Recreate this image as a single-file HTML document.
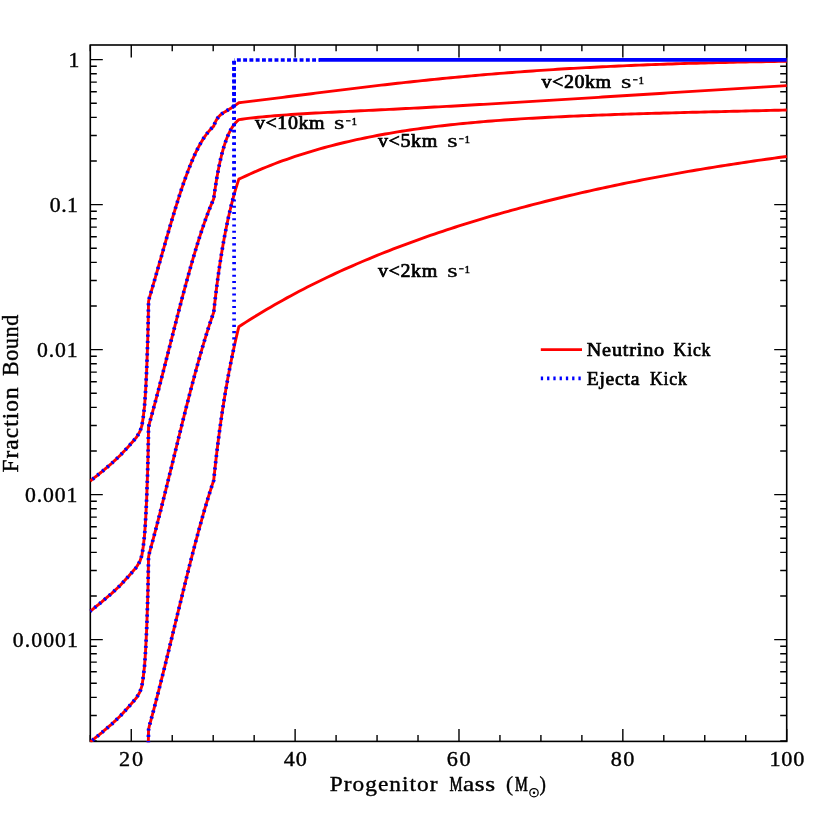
<!DOCTYPE html>
<html><head><meta charset="utf-8"><title>Fraction Bound vs Progenitor Mass</title>
<style>html,body{margin:0;padding:0;background:#fff}svg{display:block}</style></head>
<body>
<svg width="830" height="830" viewBox="0 0 830 830">
<rect width="830" height="830" fill="#fff"/>
<defs><clipPath id="cp"><rect x="89.50" y="44.20" width="698.00" height="698.00"/></clipPath></defs>
<g stroke="#000" fill="none">
<rect x="90.30" y="45.00" width="696.40" height="696.40" stroke-width="1.6"/>
<path d="M90.30,741.40 v-6.30 M90.30,45.00 v6.30 M131.26,741.40 v-12.40 M131.26,45.00 v12.40 M172.23,741.40 v-6.30 M172.23,45.00 v6.30 M213.19,741.40 v-6.30 M213.19,45.00 v6.30 M254.16,741.40 v-6.30 M254.16,45.00 v6.30 M295.12,741.40 v-12.40 M295.12,45.00 v12.40 M336.09,741.40 v-6.30 M336.09,45.00 v6.30 M377.06,741.40 v-6.30 M377.06,45.00 v6.30 M418.02,741.40 v-6.30 M418.02,45.00 v6.30 M458.99,741.40 v-12.40 M458.99,45.00 v12.40 M499.95,741.40 v-6.30 M499.95,45.00 v6.30 M540.91,741.40 v-6.30 M540.91,45.00 v6.30 M581.88,741.40 v-6.30 M581.88,45.00 v6.30 M622.84,741.40 v-12.40 M622.84,45.00 v12.40 M663.81,741.40 v-6.30 M663.81,45.00 v6.30 M704.77,741.40 v-6.30 M704.77,45.00 v6.30 M745.74,741.40 v-6.30 M745.74,45.00 v6.30 M786.70,741.40 v-12.40 M786.70,45.00 v12.40 M90.30,59.64 h12.50 M786.70,59.64 h-12.50 M90.30,204.64 h12.50 M786.70,204.64 h-12.50 M90.30,160.99 h6.50 M786.70,160.99 h-6.50 M90.30,135.46 h6.50 M786.70,135.46 h-6.50 M90.30,117.34 h6.50 M786.70,117.34 h-6.50 M90.30,103.29 h6.50 M786.70,103.29 h-6.50 M90.30,91.81 h6.50 M786.70,91.81 h-6.50 M90.30,82.10 h6.50 M786.70,82.10 h-6.50 M90.30,73.69 h6.50 M786.70,73.69 h-6.50 M90.30,66.27 h6.50 M786.70,66.27 h-6.50 M90.30,349.64 h12.50 M786.70,349.64 h-12.50 M90.30,305.99 h6.50 M786.70,305.99 h-6.50 M90.30,280.46 h6.50 M786.70,280.46 h-6.50 M90.30,262.34 h6.50 M786.70,262.34 h-6.50 M90.30,248.29 h6.50 M786.70,248.29 h-6.50 M90.30,236.81 h6.50 M786.70,236.81 h-6.50 M90.30,227.10 h6.50 M786.70,227.10 h-6.50 M90.30,218.69 h6.50 M786.70,218.69 h-6.50 M90.30,211.27 h6.50 M786.70,211.27 h-6.50 M90.30,494.64 h12.50 M786.70,494.64 h-12.50 M90.30,450.99 h6.50 M786.70,450.99 h-6.50 M90.30,425.46 h6.50 M786.70,425.46 h-6.50 M90.30,407.34 h6.50 M786.70,407.34 h-6.50 M90.30,393.29 h6.50 M786.70,393.29 h-6.50 M90.30,381.81 h6.50 M786.70,381.81 h-6.50 M90.30,372.10 h6.50 M786.70,372.10 h-6.50 M90.30,363.69 h6.50 M786.70,363.69 h-6.50 M90.30,356.27 h6.50 M786.70,356.27 h-6.50 M90.30,639.64 h12.50 M786.70,639.64 h-12.50 M90.30,595.99 h6.50 M786.70,595.99 h-6.50 M90.30,570.46 h6.50 M786.70,570.46 h-6.50 M90.30,552.34 h6.50 M786.70,552.34 h-6.50 M90.30,538.29 h6.50 M786.70,538.29 h-6.50 M90.30,526.81 h6.50 M786.70,526.81 h-6.50 M90.30,517.10 h6.50 M786.70,517.10 h-6.50 M90.30,508.69 h6.50 M786.70,508.69 h-6.50 M90.30,501.27 h6.50 M786.70,501.27 h-6.50 M90.30,740.99 h6.50 M786.70,740.99 h-6.50 M90.30,715.46 h6.50 M786.70,715.46 h-6.50 M90.30,697.34 h6.50 M786.70,697.34 h-6.50 M90.30,683.29 h6.50 M786.70,683.29 h-6.50 M90.30,671.81 h6.50 M786.70,671.81 h-6.50 M90.30,662.10 h6.50 M786.70,662.10 h-6.50 M90.30,653.69 h6.50 M786.70,653.69 h-6.50 M90.30,646.27 h6.50 M786.70,646.27 h-6.50" stroke-width="1.4"/>
</g>
<g clip-path="url(#cp)" fill="none" stroke-linejoin="round">
<path d="M90.30,481.00 L91.90,479.70 L92.35,479.34 L94.40,477.69 L96.44,476.04 L98.49,474.40 L100.54,472.75 L101.60,471.90 L102.59,471.06 L104.64,469.33 L106.69,467.60 L108.73,465.87 L110.78,464.14 L111.30,463.70 L112.83,462.27 L114.88,460.35 L116.93,458.44 L118.98,456.52 L120.50,455.10 L121.02,454.54 L123.07,452.33 L125.12,450.13 L127.17,447.93 L128.50,446.50 L129.22,445.68 L131.26,443.32 L133.31,440.96 L135.36,438.61 L136.50,437.30 L137.41,435.77 L139.46,432.34 L139.90,431.60 L141.51,426.86 L141.90,425.70 L143.20,417.50 L143.55,414.47 L144.50,406.40 L145.20,397.00 L145.60,390.62 L145.80,387.50 L146.70,369.40 L147.60,344.20 L148.10,326.10 L148.55,301.50 L149.37,297.85 L150.19,295.10 L151.01,292.33 L151.83,289.55 L152.65,286.75 L153.47,283.94 L154.29,281.12 L155.10,278.29 L155.92,275.45 L156.74,272.60 L157.56,269.74 L158.38,266.88 L159.20,264.01 L160.02,261.14 L160.84,258.27 L161.66,255.39 L162.48,252.52 L163.30,249.65 L164.12,246.79 L164.94,243.93 L165.76,241.07 L166.57,238.22 L167.39,235.39 L168.21,232.56 L169.03,229.74 L169.85,226.94 L170.67,224.15 L171.49,221.37 L172.31,218.62 L173.13,215.88 L173.95,213.16 L174.77,210.47 L175.59,207.79 L176.41,205.14 L177.23,202.52 L178.04,199.92 L178.86,197.35 L179.68,194.81 L180.50,192.30 L181.32,189.82 L182.14,187.38 L182.96,184.97 L183.78,182.59 L184.60,180.26 L185.42,177.96 L186.24,175.70 L187.06,173.48 L187.88,171.30 L188.70,169.16 L189.52,167.06 L190.33,165.01 L191.15,163.00 L191.97,161.04 L192.79,159.13 L193.61,157.26 L194.43,155.44 L195.25,153.66 L196.07,151.94 L196.89,150.26 L197.71,148.63 L198.53,147.05 L199.35,145.51 L200.17,144.03 L200.99,142.60 L201.80,141.21 L202.62,139.87 L203.44,138.58 L204.26,137.34 L205.08,136.14 L205.90,134.99 L206.72,133.89 L207.54,132.83 L208.36,131.82 L209.18,130.84 L210.00,129.92 L210.82,129.03 L211.64,128.18 L212.46,127.38 L213.27,126.61 L213.69,126.23 L214.51,124.01 L215.33,122.10 L216.14,120.46 L216.96,119.06 L217.78,117.86 L218.60,116.83 L219.42,115.93 L220.24,115.14 L221.06,114.44 L221.88,113.80 L222.70,113.22 L223.52,112.67 L224.34,112.15 L225.16,111.65 L225.98,111.16 L226.80,110.68 L227.61,110.19 L228.43,109.70 L229.25,109.20 L230.07,108.70 L230.89,108.19 L231.71,107.67 L232.53,107.14 L233.35,106.60 L234.17,106.05 L234.99,105.50 L235.81,104.93 L236.63,104.36 L237.45,103.77 L238.27,103.18 L238.84,102.77 L241.87,102.40 L245.97,101.91 L250.06,101.41 L254.16,100.91 L258.26,100.41 L262.35,99.90 L266.45,99.39 L270.55,98.88 L274.64,98.36 L278.74,97.85 L282.84,97.33 L286.93,96.81 L291.03,96.29 L295.12,95.77 L299.22,95.25 L303.32,94.73 L307.41,94.21 L311.51,93.69 L315.61,93.18 L319.70,92.66 L323.80,92.14 L327.90,91.63 L331.99,91.12 L336.09,90.61 L340.19,90.10 L344.28,89.59 L348.38,89.09 L352.48,88.59 L356.57,88.09 L360.67,87.60 L364.77,87.11 L368.86,86.62 L372.96,86.13 L377.06,85.65 L381.15,85.18 L385.25,84.70 L389.34,84.23 L393.44,83.77 L397.54,83.31 L401.63,82.85 L405.73,82.40 L409.83,81.95 L413.92,81.51 L418.02,81.08 L422.12,80.64 L426.21,80.22 L430.31,79.79 L434.41,79.38 L438.50,78.96 L442.60,78.56 L446.70,78.15 L450.79,77.76 L454.89,77.37 L458.99,76.98 L463.08,76.60 L467.18,76.22 L471.27,75.85 L475.37,75.49 L479.47,75.13 L483.56,74.78 L487.66,74.43 L491.76,74.08 L495.85,73.75 L499.95,73.41 L504.05,73.09 L508.14,72.77 L512.24,72.45 L516.34,72.14 L520.43,71.83 L524.53,71.53 L528.63,71.24 L532.72,70.95 L536.82,70.67 L540.91,70.39 L545.01,70.11 L549.11,69.84 L553.20,69.58 L557.30,69.32 L561.40,69.07 L565.49,68.82 L569.59,68.57 L573.69,68.34 L577.78,68.10 L581.88,67.87 L585.98,67.65 L590.07,67.43 L594.17,67.21 L598.27,67.00 L602.36,66.80 L606.46,66.59 L610.56,66.40 L614.65,66.20 L618.75,66.02 L622.84,65.83 L626.94,65.65 L631.04,65.48 L635.13,65.30 L639.23,65.14 L643.33,64.97 L647.42,64.81 L651.52,64.66 L655.62,64.50 L659.71,64.36 L663.81,64.21 L667.91,64.07 L672.00,63.93 L676.10,63.80 L680.20,63.67 L684.29,63.54 L688.39,63.41 L692.49,63.29 L696.58,63.18 L700.68,63.06 L704.77,62.95 L708.87,62.84 L712.97,62.74 L717.06,62.63 L721.16,62.53 L725.26,62.44 L729.35,62.34 L733.45,62.25 L737.55,62.16 L741.64,62.07 L745.74,61.99 L749.84,61.91 L753.93,61.83 L758.03,61.75 L762.13,61.68 L766.22,61.61 L770.32,61.54 L774.42,61.47 L778.51,61.40 L782.61,61.34 L786.70,61.28" stroke="#ff0000" stroke-width="2.9"/>
<path d="M90.30,611.22 L91.90,609.91 L92.35,609.55 L94.40,607.89 L96.44,606.23 L98.49,604.57 L100.54,602.91 L101.60,602.05 L102.59,601.21 L104.64,599.46 L106.69,597.71 L108.73,595.96 L110.78,594.22 L111.30,593.78 L112.83,592.33 L114.88,590.40 L116.93,588.46 L118.98,586.53 L120.50,585.09 L121.02,584.52 L123.07,582.30 L125.12,580.07 L127.17,577.85 L128.50,576.40 L129.22,575.57 L131.26,573.18 L133.31,570.80 L135.36,568.42 L136.50,567.09 L137.41,565.55 L139.46,562.07 L139.90,561.32 L141.51,556.51 L141.90,555.34 L143.20,547.02 L143.55,543.94 L144.50,535.74 L145.20,526.16 L145.60,519.66 L145.80,516.47 L146.70,497.94 L147.60,471.98 L148.10,453.18 L148.55,427.35 L149.37,423.49 L150.19,420.57 L151.01,417.63 L151.83,414.67 L152.65,411.68 L153.47,408.68 L154.29,405.65 L155.10,402.61 L155.92,399.54 L156.74,396.47 L157.56,393.37 L158.38,390.26 L159.20,387.14 L160.02,384.00 L160.84,380.86 L161.66,377.70 L162.48,374.53 L163.30,371.35 L164.12,368.17 L164.94,364.97 L165.76,361.78 L166.57,358.57 L167.39,355.36 L168.21,352.15 L169.03,348.94 L169.85,345.73 L170.67,342.51 L171.49,339.30 L172.31,336.09 L173.13,332.88 L173.95,329.68 L174.77,326.48 L175.59,323.29 L176.41,320.10 L177.23,316.93 L178.04,313.76 L178.86,310.60 L179.68,307.45 L180.50,304.32 L181.32,301.20 L182.14,298.09 L182.96,295.00 L183.78,291.92 L184.60,288.86 L185.42,285.82 L186.24,282.80 L187.06,279.80 L187.88,276.82 L188.70,273.87 L189.52,270.93 L190.33,268.02 L191.15,265.14 L191.97,262.28 L192.79,259.45 L193.61,256.64 L194.43,253.87 L195.25,251.12 L196.07,248.41 L196.89,245.73 L197.71,243.08 L198.53,240.46 L199.35,237.87 L200.17,235.32 L200.99,232.81 L201.80,230.33 L202.62,227.89 L203.44,225.49 L204.26,223.12 L205.08,220.80 L205.90,218.51 L206.72,216.26 L207.54,214.06 L208.36,211.89 L209.18,209.77 L210.00,207.69 L210.82,205.65 L211.64,203.65 L212.46,201.70 L213.27,199.79 L213.69,198.84 L214.51,192.91 L215.33,187.36 L216.14,182.16 L216.96,177.29 L217.78,172.73 L218.60,168.45 L219.42,164.45 L220.24,160.71 L221.06,157.21 L221.88,153.93 L222.70,150.86 L223.52,148.00 L224.34,145.32 L225.16,142.82 L225.98,140.50 L226.80,138.32 L227.61,136.30 L228.43,134.42 L229.25,132.67 L230.07,131.05 L230.89,129.54 L231.71,128.14 L232.53,126.84 L233.35,125.64 L234.17,124.52 L234.99,123.49 L235.81,122.54 L236.63,121.66 L237.45,120.84 L238.27,120.09 L238.84,119.59 L241.87,119.19 L245.97,118.67 L250.06,118.18 L254.16,117.72 L258.26,117.29 L262.35,116.88 L266.45,116.49 L270.55,116.13 L274.64,115.78 L278.74,115.45 L282.84,115.14 L286.93,114.85 L291.03,114.56 L295.12,114.29 L299.22,114.03 L303.32,113.78 L307.41,113.53 L311.51,113.30 L315.61,113.07 L319.70,112.85 L323.80,112.63 L327.90,112.41 L331.99,112.20 L336.09,112.00 L340.19,111.79 L344.28,111.59 L348.38,111.39 L352.48,111.19 L356.57,110.99 L360.67,110.79 L364.77,110.59 L368.86,110.39 L372.96,110.19 L377.06,109.99 L381.15,109.79 L385.25,109.59 L389.34,109.39 L393.44,109.19 L397.54,108.98 L401.63,108.78 L405.73,108.57 L409.83,108.36 L413.92,108.15 L418.02,107.94 L422.12,107.72 L426.21,107.51 L430.31,107.29 L434.41,107.07 L438.50,106.85 L442.60,106.63 L446.70,106.41 L450.79,106.19 L454.89,105.96 L458.99,105.73 L463.08,105.50 L467.18,105.27 L471.27,105.04 L475.37,104.81 L479.47,104.57 L483.56,104.34 L487.66,104.10 L491.76,103.86 L495.85,103.62 L499.95,103.38 L504.05,103.14 L508.14,102.89 L512.24,102.65 L516.34,102.40 L520.43,102.16 L524.53,101.91 L528.63,101.66 L532.72,101.41 L536.82,101.16 L540.91,100.91 L545.01,100.66 L549.11,100.41 L553.20,100.15 L557.30,99.90 L561.40,99.64 L565.49,99.39 L569.59,99.13 L573.69,98.88 L577.78,98.62 L581.88,98.36 L585.98,98.10 L590.07,97.85 L594.17,97.59 L598.27,97.33 L602.36,97.07 L606.46,96.81 L610.56,96.55 L614.65,96.29 L618.75,96.03 L622.84,95.77 L626.94,95.51 L631.04,95.25 L635.13,94.99 L639.23,94.73 L643.33,94.47 L647.42,94.21 L651.52,93.95 L655.62,93.69 L659.71,93.44 L663.81,93.18 L667.91,92.92 L672.00,92.66 L676.10,92.40 L680.20,92.14 L684.29,91.89 L688.39,91.63 L692.49,91.37 L696.58,91.12 L700.68,90.86 L704.77,90.61 L708.87,90.35 L712.97,90.10 L717.06,89.85 L721.16,89.59 L725.26,89.34 L729.35,89.09 L733.45,88.84 L737.55,88.59 L741.64,88.34 L745.74,88.09 L749.84,87.84 L753.93,87.60 L758.03,87.35 L762.13,87.11 L766.22,86.86 L770.32,86.62 L774.42,86.37 L778.51,86.13 L782.61,85.89 L786.70,85.65" stroke="#ff0000" stroke-width="2.9"/>
<path d="M90.30,741.99 L91.90,740.68 L92.35,740.31 L94.40,738.65 L96.44,736.99 L98.49,735.32 L100.54,733.66 L101.60,732.80 L102.59,731.95 L104.64,730.20 L106.69,728.45 L108.73,726.70 L110.78,724.95 L111.30,724.51 L112.83,723.06 L114.88,721.12 L116.93,719.18 L118.98,717.24 L120.50,715.80 L121.02,715.23 L123.07,713.00 L125.12,710.77 L127.17,708.54 L128.50,707.09 L129.22,706.25 L131.26,703.86 L133.31,701.47 L135.36,699.08 L136.50,697.75 L137.41,696.20 L139.46,692.71 L139.90,691.96 L141.51,687.14 L141.90,685.96 L143.20,677.61 L143.55,674.52 L144.50,666.28 L145.20,656.66 L145.60,650.12 L145.80,646.92 L146.70,628.28 L147.60,602.13 L148.10,583.15 L148.55,557.01 L149.37,553.10 L150.19,550.14 L151.01,547.15 L151.83,544.14 L152.65,541.11 L153.47,538.05 L154.29,534.97 L155.10,531.87 L155.92,528.76 L156.74,525.62 L157.56,522.46 L158.38,519.29 L159.20,516.10 L160.02,512.90 L160.84,509.68 L161.66,506.45 L162.48,503.20 L163.30,499.94 L164.12,496.67 L164.94,493.39 L165.76,490.11 L166.57,486.81 L167.39,483.51 L168.21,480.19 L169.03,476.88 L169.85,473.56 L170.67,470.23 L171.49,466.90 L172.31,463.57 L173.13,460.24 L173.95,456.90 L174.77,453.57 L175.59,450.24 L176.41,446.91 L177.23,443.59 L178.04,440.26 L178.86,436.95 L179.68,433.63 L180.50,430.33 L181.32,427.03 L182.14,423.74 L182.96,420.46 L183.78,417.19 L184.60,413.93 L185.42,410.69 L186.24,407.45 L187.06,404.23 L187.88,401.03 L188.70,397.84 L189.52,394.66 L190.33,391.51 L191.15,388.37 L191.97,385.25 L192.79,382.15 L193.61,379.07 L194.43,376.02 L195.25,372.98 L196.07,369.97 L196.89,366.98 L197.71,364.02 L198.53,361.09 L199.35,358.18 L200.17,355.30 L200.99,352.44 L201.80,349.62 L202.62,346.82 L203.44,344.06 L204.26,341.33 L205.08,338.63 L205.90,335.96 L206.72,333.33 L207.54,330.74 L208.36,328.17 L209.18,325.65 L210.00,323.16 L210.82,320.71 L211.64,318.30 L212.46,315.93 L213.27,313.59 L213.69,312.44 L214.51,305.08 L215.33,298.06 L216.14,291.35 L216.96,284.93 L217.78,278.78 L218.60,272.88 L219.42,267.23 L220.24,261.79 L221.06,256.56 L221.88,251.54 L222.70,246.70 L223.52,242.04 L224.34,237.55 L225.16,233.21 L225.98,229.04 L226.80,225.00 L227.61,221.11 L228.43,217.35 L229.25,213.72 L230.07,210.21 L230.89,206.82 L231.71,203.54 L232.53,200.37 L233.35,197.30 L234.17,194.34 L234.99,191.47 L235.81,188.69 L236.63,186.01 L237.45,183.41 L238.27,180.89 L238.84,179.18 L241.87,177.73 L245.97,175.82 L250.06,173.96 L254.16,172.14 L258.26,170.38 L262.35,168.66 L266.45,166.99 L270.55,165.36 L274.64,163.77 L278.74,162.23 L282.84,160.73 L286.93,159.27 L291.03,157.84 L295.12,156.46 L299.22,155.11 L303.32,153.80 L307.41,152.53 L311.51,151.29 L315.61,150.08 L319.70,148.91 L323.80,147.76 L327.90,146.65 L331.99,145.57 L336.09,144.53 L340.19,143.51 L344.28,142.51 L348.38,141.55 L352.48,140.61 L356.57,139.70 L360.67,138.82 L364.77,137.96 L368.86,137.13 L372.96,136.32 L377.06,135.53 L381.15,134.77 L385.25,134.03 L389.34,133.31 L393.44,132.61 L397.54,131.93 L401.63,131.27 L405.73,130.64 L409.83,130.02 L413.92,129.42 L418.02,128.84 L422.12,128.27 L426.21,127.73 L430.31,127.20 L434.41,126.68 L438.50,126.18 L442.60,125.70 L446.70,125.23 L450.79,124.78 L454.89,124.34 L458.99,123.92 L463.08,123.50 L467.18,123.11 L471.27,122.72 L475.37,122.34 L479.47,121.98 L483.56,121.63 L487.66,121.29 L491.76,120.96 L495.85,120.64 L499.95,120.33 L504.05,120.03 L508.14,119.74 L512.24,119.46 L516.34,119.19 L520.43,118.92 L524.53,118.67 L528.63,118.42 L532.72,118.18 L536.82,117.94 L540.91,117.72 L545.01,117.50 L549.11,117.29 L553.20,117.08 L557.30,116.88 L561.40,116.68 L565.49,116.49 L569.59,116.31 L573.69,116.13 L577.78,115.95 L581.88,115.78 L585.98,115.62 L590.07,115.45 L594.17,115.30 L598.27,115.14 L602.36,114.99 L606.46,114.85 L610.56,114.70 L614.65,114.56 L618.75,114.42 L622.84,114.29 L626.94,114.16 L631.04,114.03 L635.13,113.90 L639.23,113.78 L643.33,113.66 L647.42,113.53 L651.52,113.42 L655.62,113.30 L659.71,113.18 L663.81,113.07 L667.91,112.96 L672.00,112.85 L676.10,112.74 L680.20,112.63 L684.29,112.52 L688.39,112.41 L692.49,112.31 L696.58,112.20 L700.68,112.10 L704.77,112.00 L708.87,111.89 L712.97,111.79 L717.06,111.69 L721.16,111.59 L725.26,111.49 L729.35,111.39 L733.45,111.29 L737.55,111.19 L741.64,111.09 L745.74,110.99 L749.84,110.89 L753.93,110.79 L758.03,110.69 L762.13,110.59 L766.22,110.49 L770.32,110.39 L774.42,110.29 L778.51,110.19 L782.61,110.09 L786.70,109.99" stroke="#ff0000" stroke-width="2.9"/>
<path d="M90.30,915.04 L91.90,913.73 L92.35,913.37 L94.40,911.70 L96.44,910.04 L98.49,908.37 L100.54,906.71 L101.60,905.85 L102.59,905.00 L104.64,903.25 L106.69,901.49 L108.73,899.74 L110.78,897.99 L111.30,897.55 L112.83,896.10 L114.88,894.16 L116.93,892.22 L118.98,890.28 L120.50,888.84 L121.02,888.27 L123.07,886.03 L125.12,883.80 L127.17,881.57 L128.50,880.12 L129.22,879.28 L131.26,876.89 L133.31,874.49 L135.36,872.10 L136.50,870.77 L137.41,869.22 L139.46,865.73 L139.90,864.98 L141.51,860.15 L141.90,858.97 L143.20,850.61 L143.55,847.52 L144.50,839.27 L145.20,829.64 L145.60,823.09 L145.80,819.89 L146.70,801.22 L147.60,775.01 L148.10,755.98 L148.55,729.76 L149.37,725.82 L150.19,722.85 L151.01,719.85 L151.83,716.83 L152.65,713.78 L153.47,710.71 L154.29,707.62 L155.10,704.51 L155.92,701.37 L156.74,698.22 L157.56,695.04 L158.38,691.85 L159.20,688.65 L160.02,685.42 L160.84,682.18 L161.66,678.93 L162.48,675.66 L163.30,672.38 L164.12,669.09 L164.94,665.79 L165.76,662.47 L166.57,659.15 L167.39,655.82 L168.21,652.48 L169.03,649.13 L169.85,645.78 L170.67,642.42 L171.49,639.06 L172.31,635.70 L173.13,632.33 L173.95,628.96 L174.77,625.59 L175.59,622.22 L176.41,618.85 L177.23,615.48 L178.04,612.11 L178.86,608.75 L179.68,605.39 L180.50,602.04 L181.32,598.69 L182.14,595.35 L182.96,592.01 L183.78,588.69 L184.60,585.37 L185.42,582.07 L186.24,578.77 L187.06,575.49 L187.88,572.22 L188.70,568.96 L189.52,565.72 L190.33,562.49 L191.15,559.28 L191.97,556.08 L192.79,552.91 L193.61,549.75 L194.43,546.61 L195.25,543.49 L196.07,540.39 L196.89,537.32 L197.71,534.26 L198.53,531.24 L199.35,528.23 L200.17,525.25 L200.99,522.30 L201.80,519.37 L202.62,516.47 L203.44,513.60 L204.26,510.76 L205.08,507.95 L205.90,505.18 L206.72,502.43 L207.54,499.72 L208.36,497.04 L209.18,494.39 L210.00,491.78 L210.82,489.21 L211.64,486.67 L212.46,484.17 L213.27,481.71 L213.69,480.49 L214.51,472.70 L215.33,465.22 L216.14,458.05 L216.96,451.14 L217.78,444.49 L218.60,438.08 L219.42,431.88 L220.24,425.90 L221.06,420.10 L221.88,414.49 L222.70,409.05 L223.52,403.78 L224.34,398.65 L225.16,393.68 L225.98,388.84 L226.80,384.13 L227.61,379.54 L228.43,375.08 L229.25,370.73 L230.07,366.48 L230.89,362.34 L231.71,358.30 L232.53,354.35 L233.35,350.50 L234.17,346.73 L234.99,343.04 L235.81,339.44 L236.63,335.91 L237.45,332.45 L238.27,329.07 L238.84,326.75 L241.87,324.76 L245.97,322.12 L250.06,319.52 L254.16,316.97 L258.26,314.45 L262.35,311.97 L266.45,309.53 L270.55,307.13 L274.64,304.77 L278.74,302.44 L282.84,300.15 L286.93,297.89 L291.03,295.66 L295.12,293.47 L299.22,291.31 L303.32,289.18 L307.41,287.08 L311.51,285.01 L315.61,282.97 L319.70,280.95 L323.80,278.97 L327.90,277.01 L331.99,275.08 L336.09,273.17 L340.19,271.29 L344.28,269.44 L348.38,267.60 L352.48,265.80 L356.57,264.01 L360.67,262.25 L364.77,260.51 L368.86,258.80 L372.96,257.10 L377.06,255.43 L381.15,253.78 L385.25,252.15 L389.34,250.54 L393.44,248.95 L397.54,247.38 L401.63,245.82 L405.73,244.29 L409.83,242.77 L413.92,241.28 L418.02,239.80 L422.12,238.34 L426.21,236.89 L430.31,235.47 L434.41,234.06 L438.50,232.67 L442.60,231.29 L446.70,229.93 L450.79,228.58 L454.89,227.25 L458.99,225.94 L463.08,224.64 L467.18,223.35 L471.27,222.08 L475.37,220.83 L479.47,219.59 L483.56,218.36 L487.66,217.15 L491.76,215.95 L495.85,214.76 L499.95,213.59 L504.05,212.43 L508.14,211.28 L512.24,210.15 L516.34,209.03 L520.43,207.92 L524.53,206.82 L528.63,205.74 L532.72,204.66 L536.82,203.60 L540.91,202.55 L545.01,201.51 L549.11,200.49 L553.20,199.47 L557.30,198.47 L561.40,197.47 L565.49,196.49 L569.59,195.52 L573.69,194.56 L577.78,193.60 L581.88,192.66 L585.98,191.73 L590.07,190.81 L594.17,189.90 L598.27,189.00 L602.36,188.11 L606.46,187.22 L610.56,186.35 L614.65,185.49 L618.75,184.63 L622.84,183.79 L626.94,182.95 L631.04,182.13 L635.13,181.31 L639.23,180.50 L643.33,179.70 L647.42,178.90 L651.52,178.12 L655.62,177.35 L659.71,176.58 L663.81,175.82 L667.91,175.07 L672.00,174.32 L676.10,173.59 L680.20,172.86 L684.29,172.14 L688.39,171.43 L692.49,170.73 L696.58,170.03 L700.68,169.34 L704.77,168.66 L708.87,167.98 L712.97,167.32 L717.06,166.66 L721.16,166.00 L725.26,165.36 L729.35,164.72 L733.45,164.09 L737.55,163.46 L741.64,162.84 L745.74,162.23 L749.84,161.62 L753.93,161.02 L758.03,160.43 L762.13,159.85 L766.22,159.27 L770.32,158.69 L774.42,158.12 L778.51,157.56 L782.61,157.01 L786.70,156.46" stroke="#ff0000" stroke-width="2.9"/>
<path d="M90.30,481.00 L91.90,479.70 L92.35,479.34 L94.40,477.69 L96.44,476.04 L98.49,474.40 L100.54,472.75 L101.60,471.90 L102.59,471.06 L104.64,469.33 L106.69,467.60 L108.73,465.87 L110.78,464.14 L111.30,463.70 L112.83,462.27 L114.88,460.35 L116.93,458.44 L118.98,456.52 L120.50,455.10 L121.02,454.54 L123.07,452.33 L125.12,450.13 L127.17,447.93 L128.50,446.50 L129.22,445.68 L131.26,443.32 L133.31,440.96 L135.36,438.61 L136.50,437.30 L137.41,435.77 L139.46,432.34 L139.90,431.60 L141.51,426.86 L141.90,425.70 L143.20,417.50 L143.55,414.47 L144.50,406.40 L145.20,397.00 L145.60,390.62 L145.80,387.50 L146.70,369.40 L147.60,344.20 L148.10,326.10 L148.55,301.50 L149.37,297.85 L150.19,295.10 L151.01,292.33 L151.83,289.55 L152.65,286.75 L153.47,283.94 L154.29,281.12 L155.10,278.29 L155.92,275.45 L156.74,272.60 L157.56,269.74 L158.38,266.88 L159.20,264.01 L160.02,261.14 L160.84,258.27 L161.66,255.39 L162.48,252.52 L163.30,249.65 L164.12,246.79 L164.94,243.93 L165.76,241.07 L166.57,238.22 L167.39,235.39 L168.21,232.56 L169.03,229.74 L169.85,226.94 L170.67,224.15 L171.49,221.37 L172.31,218.62 L173.13,215.88 L173.95,213.16 L174.77,210.47 L175.59,207.79 L176.41,205.14 L177.23,202.52 L178.04,199.92 L178.86,197.35 L179.68,194.81 L180.50,192.30 L181.32,189.82 L182.14,187.38 L182.96,184.97 L183.78,182.59 L184.60,180.26 L185.42,177.96 L186.24,175.70 L187.06,173.48 L187.88,171.30 L188.70,169.16 L189.52,167.06 L190.33,165.01 L191.15,163.00 L191.97,161.04 L192.79,159.13 L193.61,157.26 L194.43,155.44 L195.25,153.66 L196.07,151.94 L196.89,150.26 L197.71,148.63 L198.53,147.05 L199.35,145.51 L200.17,144.03 L200.99,142.60 L201.80,141.21 L202.62,139.87 L203.44,138.58 L204.26,137.34 L205.08,136.14 L205.90,134.99 L206.72,133.89 L207.54,132.83 L208.36,131.82 L209.18,130.84 L210.00,129.92 L210.82,129.03 L211.64,128.18 L212.46,127.38 L213.27,126.61 L213.69,126.23 L214.51,124.01 L215.33,122.10 L216.14,120.46 L216.96,119.06 L217.78,117.86 L218.60,116.83 L219.42,115.93 L220.24,115.14 L221.06,114.44 L221.88,113.80 L222.70,113.22 L223.52,112.67 L224.34,112.15 L225.16,111.65 L225.98,111.16 L226.80,110.68 L227.61,110.19 L228.43,109.70 L229.25,109.20 L230.07,108.70 L230.89,108.19 L231.71,107.67 L232.53,107.14 L233.35,106.60 L234.09,106.11 L234.09,60.00" stroke="#0000ff" stroke-width="3.7" stroke-dasharray="2.10 4.17" stroke-dashoffset="3.42"/>
<path d="M90.30,611.22 L91.90,609.91 L92.35,609.55 L94.40,607.89 L96.44,606.23 L98.49,604.57 L100.54,602.91 L101.60,602.05 L102.59,601.21 L104.64,599.46 L106.69,597.71 L108.73,595.96 L110.78,594.22 L111.30,593.78 L112.83,592.33 L114.88,590.40 L116.93,588.46 L118.98,586.53 L120.50,585.09 L121.02,584.52 L123.07,582.30 L125.12,580.07 L127.17,577.85 L128.50,576.40 L129.22,575.57 L131.26,573.18 L133.31,570.80 L135.36,568.42 L136.50,567.09 L137.41,565.55 L139.46,562.07 L139.90,561.32 L141.51,556.51 L141.90,555.34 L143.20,547.02 L143.55,543.94 L144.50,535.74 L145.20,526.16 L145.60,519.66 L145.80,516.47 L146.70,497.94 L147.60,471.98 L148.10,453.18 L148.55,427.35 L149.37,423.49 L150.19,420.57 L151.01,417.63 L151.83,414.67 L152.65,411.68 L153.47,408.68 L154.29,405.65 L155.10,402.61 L155.92,399.54 L156.74,396.47 L157.56,393.37 L158.38,390.26 L159.20,387.14 L160.02,384.00 L160.84,380.86 L161.66,377.70 L162.48,374.53 L163.30,371.35 L164.12,368.17 L164.94,364.97 L165.76,361.78 L166.57,358.57 L167.39,355.36 L168.21,352.15 L169.03,348.94 L169.85,345.73 L170.67,342.51 L171.49,339.30 L172.31,336.09 L173.13,332.88 L173.95,329.68 L174.77,326.48 L175.59,323.29 L176.41,320.10 L177.23,316.93 L178.04,313.76 L178.86,310.60 L179.68,307.45 L180.50,304.32 L181.32,301.20 L182.14,298.09 L182.96,295.00 L183.78,291.92 L184.60,288.86 L185.42,285.82 L186.24,282.80 L187.06,279.80 L187.88,276.82 L188.70,273.87 L189.52,270.93 L190.33,268.02 L191.15,265.14 L191.97,262.28 L192.79,259.45 L193.61,256.64 L194.43,253.87 L195.25,251.12 L196.07,248.41 L196.89,245.73 L197.71,243.08 L198.53,240.46 L199.35,237.87 L200.17,235.32 L200.99,232.81 L201.80,230.33 L202.62,227.89 L203.44,225.49 L204.26,223.12 L205.08,220.80 L205.90,218.51 L206.72,216.26 L207.54,214.06 L208.36,211.89 L209.18,209.77 L210.00,207.69 L210.82,205.65 L211.64,203.65 L212.46,201.70 L213.27,199.79 L213.69,198.84 L214.51,192.91 L215.33,187.36 L216.14,182.16 L216.96,177.29 L217.78,172.73 L218.60,168.45 L219.42,164.45 L220.24,160.71 L221.06,157.21 L221.88,153.93 L222.70,150.86 L223.52,148.00 L224.34,145.32 L225.16,142.82 L225.98,140.50 L226.80,138.32 L227.61,136.30 L228.43,134.42 L229.25,132.67 L230.07,131.05 L230.89,129.54 L231.71,128.14 L232.53,126.84 L233.35,125.64 L234.09,124.63 L234.09,60.00" stroke="#0000ff" stroke-width="3.7" stroke-dasharray="2.10 4.17" stroke-dashoffset="0.77"/>
<path d="M90.30,741.99 L91.90,740.68 L92.35,740.31 L94.40,738.65 L96.44,736.99 L98.49,735.32 L100.54,733.66 L101.60,732.80 L102.59,731.95 L104.64,730.20 L106.69,728.45 L108.73,726.70 L110.78,724.95 L111.30,724.51 L112.83,723.06 L114.88,721.12 L116.93,719.18 L118.98,717.24 L120.50,715.80 L121.02,715.23 L123.07,713.00 L125.12,710.77 L127.17,708.54 L128.50,707.09 L129.22,706.25 L131.26,703.86 L133.31,701.47 L135.36,699.08 L136.50,697.75 L137.41,696.20 L139.46,692.71 L139.90,691.96 L141.51,687.14 L141.90,685.96 L143.20,677.61 L143.55,674.52 L144.50,666.28 L145.20,656.66 L145.60,650.12 L145.80,646.92 L146.70,628.28 L147.60,602.13 L148.10,583.15 L148.55,557.01 L149.37,553.10 L150.19,550.14 L151.01,547.15 L151.83,544.14 L152.65,541.11 L153.47,538.05 L154.29,534.97 L155.10,531.87 L155.92,528.76 L156.74,525.62 L157.56,522.46 L158.38,519.29 L159.20,516.10 L160.02,512.90 L160.84,509.68 L161.66,506.45 L162.48,503.20 L163.30,499.94 L164.12,496.67 L164.94,493.39 L165.76,490.11 L166.57,486.81 L167.39,483.51 L168.21,480.19 L169.03,476.88 L169.85,473.56 L170.67,470.23 L171.49,466.90 L172.31,463.57 L173.13,460.24 L173.95,456.90 L174.77,453.57 L175.59,450.24 L176.41,446.91 L177.23,443.59 L178.04,440.26 L178.86,436.95 L179.68,433.63 L180.50,430.33 L181.32,427.03 L182.14,423.74 L182.96,420.46 L183.78,417.19 L184.60,413.93 L185.42,410.69 L186.24,407.45 L187.06,404.23 L187.88,401.03 L188.70,397.84 L189.52,394.66 L190.33,391.51 L191.15,388.37 L191.97,385.25 L192.79,382.15 L193.61,379.07 L194.43,376.02 L195.25,372.98 L196.07,369.97 L196.89,366.98 L197.71,364.02 L198.53,361.09 L199.35,358.18 L200.17,355.30 L200.99,352.44 L201.80,349.62 L202.62,346.82 L203.44,344.06 L204.26,341.33 L205.08,338.63 L205.90,335.96 L206.72,333.33 L207.54,330.74 L208.36,328.17 L209.18,325.65 L210.00,323.16 L210.82,320.71 L211.64,318.30 L212.46,315.93 L213.27,313.59 L213.69,312.44 L214.51,305.08 L215.33,298.06 L216.14,291.35 L216.96,284.93 L217.78,278.78 L218.60,272.88 L219.42,267.23 L220.24,261.79 L221.06,256.56 L221.88,251.54 L222.70,246.70 L223.52,242.04 L224.34,237.55 L225.16,233.21 L225.98,229.04 L226.80,225.00 L227.61,221.11 L228.43,217.35 L229.25,213.72 L230.07,210.21 L230.89,206.82 L231.71,203.54 L232.53,200.37 L233.35,197.30 L234.09,194.63 L234.09,60.00" stroke="#0000ff" stroke-width="3.7" stroke-dasharray="2.10 4.17" stroke-dashoffset="3.72"/>
<path d="M90.30,915.04 L91.90,913.73 L92.35,913.37 L94.40,911.70 L96.44,910.04 L98.49,908.37 L100.54,906.71 L101.60,905.85 L102.59,905.00 L104.64,903.25 L106.69,901.49 L108.73,899.74 L110.78,897.99 L111.30,897.55 L112.83,896.10 L114.88,894.16 L116.93,892.22 L118.98,890.28 L120.50,888.84 L121.02,888.27 L123.07,886.03 L125.12,883.80 L127.17,881.57 L128.50,880.12 L129.22,879.28 L131.26,876.89 L133.31,874.49 L135.36,872.10 L136.50,870.77 L137.41,869.22 L139.46,865.73 L139.90,864.98 L141.51,860.15 L141.90,858.97 L143.20,850.61 L143.55,847.52 L144.50,839.27 L145.20,829.64 L145.60,823.09 L145.80,819.89 L146.70,801.22 L147.60,775.01 L148.10,755.98 L148.55,729.76 L149.37,725.82 L150.19,722.85 L151.01,719.85 L151.83,716.83 L152.65,713.78 L153.47,710.71 L154.29,707.62 L155.10,704.51 L155.92,701.37 L156.74,698.22 L157.56,695.04 L158.38,691.85 L159.20,688.65 L160.02,685.42 L160.84,682.18 L161.66,678.93 L162.48,675.66 L163.30,672.38 L164.12,669.09 L164.94,665.79 L165.76,662.47 L166.57,659.15 L167.39,655.82 L168.21,652.48 L169.03,649.13 L169.85,645.78 L170.67,642.42 L171.49,639.06 L172.31,635.70 L173.13,632.33 L173.95,628.96 L174.77,625.59 L175.59,622.22 L176.41,618.85 L177.23,615.48 L178.04,612.11 L178.86,608.75 L179.68,605.39 L180.50,602.04 L181.32,598.69 L182.14,595.35 L182.96,592.01 L183.78,588.69 L184.60,585.37 L185.42,582.07 L186.24,578.77 L187.06,575.49 L187.88,572.22 L188.70,568.96 L189.52,565.72 L190.33,562.49 L191.15,559.28 L191.97,556.08 L192.79,552.91 L193.61,549.75 L194.43,546.61 L195.25,543.49 L196.07,540.39 L196.89,537.32 L197.71,534.26 L198.53,531.24 L199.35,528.23 L200.17,525.25 L200.99,522.30 L201.80,519.37 L202.62,516.47 L203.44,513.60 L204.26,510.76 L205.08,507.95 L205.90,505.18 L206.72,502.43 L207.54,499.72 L208.36,497.04 L209.18,494.39 L210.00,491.78 L210.82,489.21 L211.64,486.67 L212.46,484.17 L213.27,481.71 L213.69,480.49 L214.51,472.70 L215.33,465.22 L216.14,458.05 L216.96,451.14 L217.78,444.49 L218.60,438.08 L219.42,431.88 L220.24,425.90 L221.06,420.10 L221.88,414.49 L222.70,409.05 L223.52,403.78 L224.34,398.65 L225.16,393.68 L225.98,388.84 L226.80,384.13 L227.61,379.54 L228.43,375.08 L229.25,370.73 L230.07,366.48 L230.89,362.34 L231.71,358.30 L232.53,354.35 L233.35,350.50 L234.09,347.10 L234.09,60.00" stroke="#0000ff" stroke-width="3.7" stroke-dasharray="2.10 4.17" stroke-dashoffset="1.14"/>
<path d="M234.09,60.00 L320,60.00" stroke="#0000ff" stroke-width="3.7" stroke-dasharray="3.9 2.37" stroke-dashoffset="3.46"/>
<path d="M319,59.85 L786.70,59.80" stroke="#0000ff" stroke-width="3.7"/>
</g>
<g font-family="'Liberation Serif', serif" fill="#000" opacity="0.999">
<text transform="translate(119.05,765.50) scale(1.0600,1.0000)" font-size="21" letter-spacing="1.651" stroke="#000" stroke-width="0.40">20</text>
<text transform="translate(283.70,765.50) scale(1.0600,1.0000)" font-size="21" letter-spacing="0.943" stroke="#000" stroke-width="0.40">40</text>
<text transform="translate(446.80,765.50) scale(1.0600,1.0000)" font-size="21" letter-spacing="1.415" stroke="#000" stroke-width="0.40">60</text>
<text transform="translate(610.70,765.50) scale(1.0600,1.0000)" font-size="21" letter-spacing="1.415" stroke="#000" stroke-width="0.40">80</text>
<text transform="translate(769.40,765.50) scale(1.0600,1.0000)" font-size="21" letter-spacing="0.708" stroke="#000" stroke-width="0.40">100</text>
<text transform="translate(68.40,66.64) scale(1.0600,1.0000)" font-size="20.5" letter-spacing="0.000" stroke="#000" stroke-width="0.40">1</text>
<text transform="translate(49.80,211.64) scale(1.0600,1.0000)" font-size="20.5" letter-spacing="0.472" stroke="#000" stroke-width="0.40">0.1</text>
<text transform="translate(37.10,356.64) scale(1.0600,1.0000)" font-size="20.5" letter-spacing="0.786" stroke="#000" stroke-width="0.40">0.01</text>
<text transform="translate(24.90,501.64) scale(1.0600,1.0000)" font-size="20.5" letter-spacing="0.825" stroke="#000" stroke-width="0.40">0.001</text>
<text transform="translate(12.70,646.64) scale(1.0600,1.0000)" font-size="20.5" letter-spacing="1.038" stroke="#000" stroke-width="0.40">0.0001</text>
<text transform="translate(329.70,791.20) scale(1.1106,1.0000)" font-size="21" letter-spacing="0.940" stroke="#000" stroke-width="0.40">Progenitor</text>
<text transform="translate(449.40,791.20) scale(0.6964,1.0000)" font-size="21" letter-spacing="0.000" stroke="#000" stroke-width="0.70">M</text>
<text transform="translate(462.90,791.20) scale(1.2054,1.0000)" font-size="21" letter-spacing="0.568" stroke="#000" stroke-width="0.40">ass</text>
<text transform="translate(505.90,791.20) scale(1.0052,1.0000)" font-size="21" letter-spacing="0.000" stroke="#000" stroke-width="0.40">(</text>
<text transform="translate(514.90,791.20) scale(0.6874,1.0000)" font-size="21" letter-spacing="0.000" stroke="#000" stroke-width="0.70">M</text>
<text transform="translate(539.60,791.20) scale(0.9185,1.0000)" font-size="21" letter-spacing="0.000" stroke="#000" stroke-width="0.40">)</text>
<text transform="translate(17.60,472.60) rotate(-90) scale(1.1117,1.0600)" font-size="21" letter-spacing="0.977" stroke="#000" stroke-width="0.40">Fraction</text>
<text transform="translate(17.60,375.90) rotate(-90) scale(1.0478,1.0600)" font-size="21" letter-spacing="0.566" stroke="#000" stroke-width="0.40">Bound</text>
<text transform="translate(541.50,88.30) scale(1.1127,1.0000)" font-size="18" letter-spacing="0.492" stroke="#000" stroke-width="0.70">v&lt;20km</text>
<text transform="translate(621.10,88.30) scale(1.4773,1.0000)" font-size="18" letter-spacing="0.000" stroke="#000" stroke-width="0.30">s</text>
<text transform="translate(638.40,83.70)" font-size="11" letter-spacing="0.000" stroke="#000" stroke-width="0.50">1</text>
<text transform="translate(254.90,129.30) scale(1.1063,1.0000)" font-size="18" letter-spacing="0.564" stroke="#000" stroke-width="0.70">v&lt;10km</text>
<text transform="translate(334.10,129.30) scale(1.4773,1.0000)" font-size="18" letter-spacing="0.000" stroke="#000" stroke-width="0.30">s</text>
<text transform="translate(351.40,124.70)" font-size="11" letter-spacing="0.000" stroke="#000" stroke-width="0.50">1</text>
<text transform="translate(378.00,147.30) scale(1.1116,1.0000)" font-size="18" letter-spacing="0.555" stroke="#000" stroke-width="0.70">v&lt;5km</text>
<text transform="translate(447.20,147.30) scale(1.4773,1.0000)" font-size="18" letter-spacing="0.000" stroke="#000" stroke-width="0.30">s</text>
<text transform="translate(464.50,142.70)" font-size="11" letter-spacing="0.000" stroke="#000" stroke-width="0.50">1</text>
<text transform="translate(378.00,277.30) scale(1.1116,1.0000)" font-size="18" letter-spacing="0.555" stroke="#000" stroke-width="0.70">v&lt;2km</text>
<text transform="translate(447.20,277.30) scale(1.4773,1.0000)" font-size="18" letter-spacing="0.000" stroke="#000" stroke-width="0.30">s</text>
<text transform="translate(464.50,272.70)" font-size="11" letter-spacing="0.000" stroke="#000" stroke-width="0.50">1</text>
<text transform="translate(586.70,355.70) scale(1.1232,1.0000)" font-size="18" letter-spacing="0.725" stroke="#000" stroke-width="0.70">Neutrino</text>
<text transform="translate(673.60,355.70) scale(0.9827,1.0000)" font-size="18" letter-spacing="0.836" stroke="#000" stroke-width="0.70">Kick</text>
<text transform="translate(586.70,384.70) scale(1.0920,1.0000)" font-size="18" letter-spacing="0.663" stroke="#000" stroke-width="0.70">Ejecta</text>
<text transform="translate(650.00,384.70) scale(0.9827,1.0000)" font-size="18" letter-spacing="0.836" stroke="#000" stroke-width="0.70">Kick</text>
<path d="M633.00,79.80 h4.6" stroke="#000" stroke-width="1.3" fill="none"/>
<path d="M346.00,120.80 h4.6" stroke="#000" stroke-width="1.3" fill="none"/>
<path d="M459.10,138.80 h4.6" stroke="#000" stroke-width="1.3" fill="none"/>
<path d="M459.10,268.80 h4.6" stroke="#000" stroke-width="1.3" fill="none"/>
<circle cx="534" cy="792.7" r="4.2" fill="none" stroke="#000" stroke-width="1.25"/><circle cx="534" cy="792.7" r="1.25"/>
</g>
<path d="M540.8,349.6 H582" stroke="#ff0000" stroke-width="2.9" fill="none"/>
<path d="M540.8,378.4 H582" stroke="#0000ff" stroke-width="3.7" stroke-dasharray="2.3 3.97" fill="none"/>
</svg>
</body></html>
